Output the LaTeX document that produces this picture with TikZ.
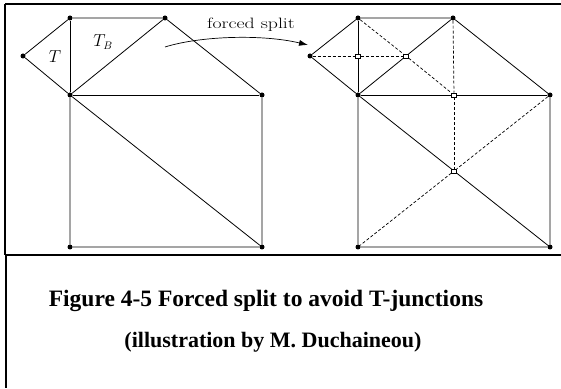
\documentclass[tikz,border=0pt]{standalone}
\usepackage{fontspec}
\newfontfamily\capfont{Liberation Serif}
\usepackage{tikz}
\usetikzlibrary{arrows.meta}

\begin{document}
\begin{tikzpicture}[
            x=1pt, y=1pt,
            vertex/.style={
                circle,
                fill=black,
                inner sep=0pt,
                minimum size=5pt
            },
            splitpt/.style={
                rectangle,
                draw=black,
                fill=white,
                line width=0.5pt,
                inner sep=0pt,
                minimum width=5pt,
                minimum height=4pt
            },
            edge/.style={
                draw,
                line width=0.8pt
            },
            newedge/.style={
                draw,
                line width=0.7pt,
                dash pattern=on 3pt off 2pt
            },
            frame/.style={
                draw,
                line width=1.6pt
            },
            tlabel/.style={
                font=\fontsize{16}{16}\selectfont
            },
            caption/.style={
                font=\capfont\bfseries\fontsize{23.5}{26}\selectfont
            }
        ]
            \useasboundingbox (0,0) rectangle (561,388);

            % --- MARCO ---
            \coordinate (fTL) at (5,384);
            \coordinate (fTR) at (561,384);
            \coordinate (fML) at (5,133);
            \coordinate (fMR) at (561,133);
            \coordinate (fBL) at (6,0);
            \draw [frame] (fTL) -- (fTR);
            \draw [frame] (fML) -- (fMR);
            \draw [frame] (fTL) -- (fML);
            \draw [frame] (fML -| fBL) -- (fBL);

            % --- MALLA ORIGINAL ---
            \node [vertex] (lA) at (70,370) {};
            \node [vertex] (lB) at (165,370) {};
            \node [vertex] (lC) at (23,332) {};
            \node [vertex] (lD) at (70,293) {};
            \node [vertex] (lE) at (262,293) {};
            \node [vertex] (lF) at (70,141) {};
            \node [vertex] (lG) at (262,141) {};

            \path [edge] (lC) -- (lA) -- (lB) -- (lE) -- (lG) -- (lF) -- (lD) -- (lC);
            \path [edge] (lA) -- (lD);
            \path [edge] (lB) -- (lD);
            \path [edge] (lD) -- (lE);
            \path [edge] (lD) -- (lG);

            \node [tlabel] (lblT) at (55,331) {$T$};
            \node [tlabel] (lblTB) at (103,346) {$T_B$};

            % --- FLECHA ---
            \coordinate (arrS) at (165,341);
            \coordinate (arrE) at (308,343);
            \draw [line width=0.7pt, -{Latex[length=9pt,width=6pt]}]
                (arrS) .. controls (200,352) and (262,354) .. (arrE);
            \node [font=\fontsize{15}{15}\selectfont] (lblSplit) at (251,363)
                {\scalebox{1.32}[1]{forced split}};

            % --- MALLA REFINADA ---
            \node [vertex] (rA) at (358,370) {};
            \node [vertex] (rB) at (453,370) {};
            \node [vertex] (rC) at (310,332) {};
            \node [vertex] (rD) at (358,293) {};
            \node [vertex] (rE) at (550,293) {};
            \node [vertex] (rF) at (358,141) {};
            \node [vertex] (rG) at (550,141) {};

            \path [edge] (rC) -- (rA) -- (rB) -- (rE) -- (rG) -- (rF) -- (rD) -- (rC);
            \path [edge] (rA) -- (rD);
            \path [edge] (rB) -- (rD);
            \path [edge] (rD) -- (rE);
            \path [edge] (rD) -- (rG);

            \node [splitpt] (sAD) at (358,332) {};
            \node [splitpt] (sBD) at (406,332) {};
            \node [splitpt] (sDE) at (454,293) {};
            \node [splitpt] (sM) at (454,217) {};

            \path [newedge] (rC) -- (sAD);
            \path [newedge] (sAD) -- (sBD);
            \path [newedge] (rA) -- (sBD);
            \path [newedge] (sBD) -- (sDE);
            \path [newedge] (rB) -- (sDE);
            \path [newedge] (sDE) -- (sM);
            \path [newedge] (rE) -- (sM);
            \path [newedge] (sM) -- (rF);

            % --- LEYENDA ---
            \node [caption] (cap1) at (266,87) {Figure 4-5 Forced split to avoid T-junctions};
            \node [caption, font=\capfont\bfseries\fontsize{22}{24}\selectfont] (cap2) at (273,46)
                {(illustration by M. Duchaineou)};
        \end{tikzpicture}
\end{document}
